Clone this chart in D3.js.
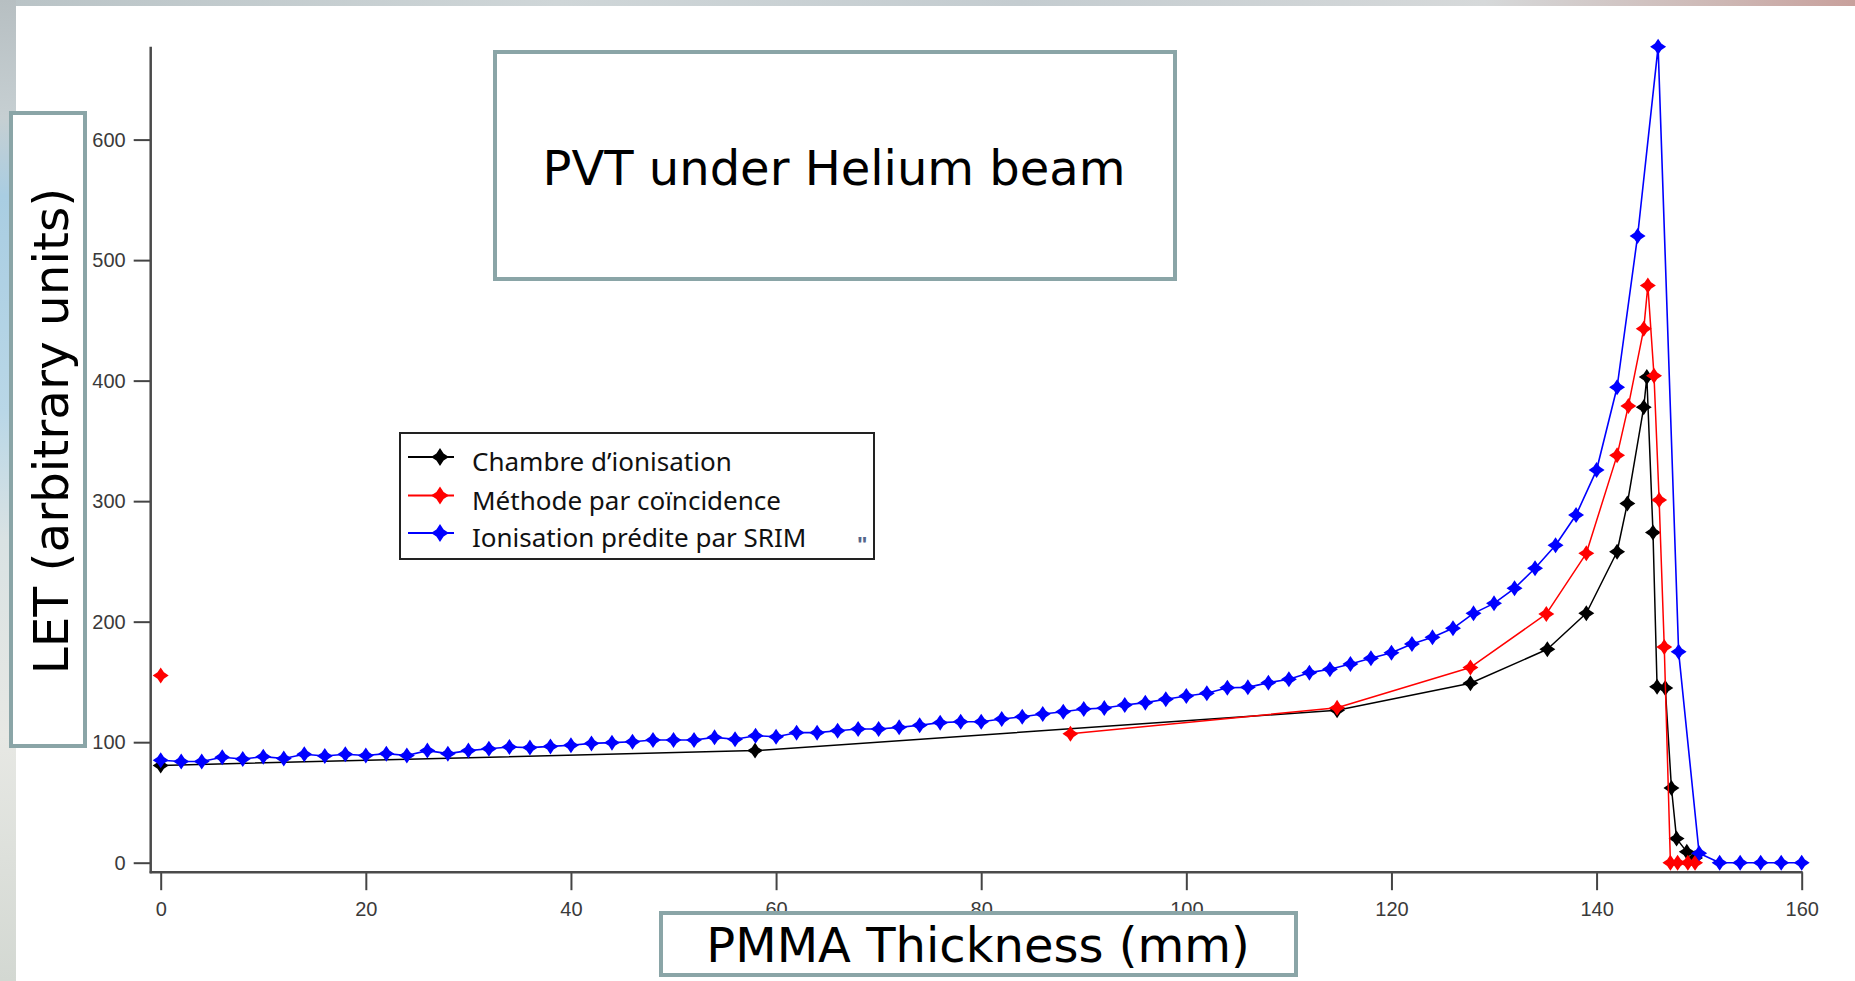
<!DOCTYPE html>
<html>
<head>
<meta charset="utf-8">
<script src="https://cdn.jsdelivr.net/npm/d3@7"></script>
<style>
  html, body { margin: 0; padding: 0; background: #fff; }
  svg { display: block; }
</style>
</head>
<body>
<div id="chart"></div>
<script>
// data (mm, arbitrary units)
const srimX = [0,2,4,6,8,10,12,14,16,18,20,22,24,26,28,30,32,34,36,38,40,42,44,46,48,50,52,54,56,58,60,
  62,64,66,68,70,72,74,76,78,80,82,84,86,88,90,92,94,96,98,100,102,104,106,108,110,112,114,116,118,120,
  122,124,126,128,130,132,134,136,138,140,142,144,146,148,150,152,154,156,158,160];
const srimY = [85,84,84,87.5,86,88,86.5,90,88.5,90,89,90.5,89,93,90.5,93,94.5,96,95.5,96.5,97.5,99,99.6,100.4,101.8,101.8,
  101.8,104,102.4,105.4,104.5,107.9,107.9,109.5,110.9,110.9,112.3,114,116.2,117,117,119.2,121.1,123.4,125.3,127.5,
  128.3,130.9,132.8,135.6,138.3,140.6,145.2,145.5,149.4,152.2,157.7,160.5,164.9,169.6,174.2,181.5,187,194.5,206.9,215.2,
  227.7,244.3,263.4,288.5,325.8,394.5,520,677,175,7.8,0,0,0,0,0];

const chambreX = [0,57.95,114.7,127.7,135.2,139,142,143,144.6,144.9,145.5,145.9,146.7,147.3,147.8,148.8,149.6];
const chambreY = [80.7,93,126.5,148.9,177.1,207,258,298,378,403,274,146,145,62,20,9,4];

// the first coincidence point stands alone (no line to the next one)
const coincX = [0,null,88.7,114.7,127.7,135.1,139,142,143.1,144.6,145,145.6,146.1,146.6,147.2,147.9,148.9,149.6];
const coincY = [155.3,null,107,128.5,162,206.4,256.7,338,379,443,479,404,301,179,0,0,0,0];

const xTicks = [0,20,40,60,80,100,120,140,160];
const yTicks = [0,100,200,300,400,500,600];

const seriesNames = ["Chambre d\u2019ionisation", "Méthode par coïncidence", "Ionisation prédite par SRIM"];
const seriesColors = ["#000000", "#ff0000", "#0000ff"];

const titleText = "PVT under Helium beam";
const xLabel = "PMMA Thickness (mm)";
const yLabel = "LET (arbitrary units)";

const W = 1855, H = 981;
const boxColor = "#8aa5a7";

const svg = d3.select("#chart").append("svg")
    .attr("width", W).attr("height", H);

// blurred slide background peeking out at the edges
const defs = svg.append("defs");
const gl = defs.append("linearGradient").attr("id", "leftBg")
    .attr("x1", 0).attr("y1", 0).attr("x2", 0).attr("y2", 1);
[[0,"#b7bfc2"],[0.12,"#c6cfd2"],[0.2,"#a9cde2"],[0.42,"#b9d7e7"],[0.55,"#d9e2e3"],[0.75,"#e7e8e4"],[1,"#d3d8d2"]]
    .forEach(s => gl.append("stop").attr("offset", s[0]).attr("stop-color", s[1]));
const gt = defs.append("linearGradient").attr("id", "topBg")
    .attr("x1", 0).attr("y1", 0).attr("x2", 1).attr("y2", 0);
[[0,"#b9c3c6"],[0.3,"#cfd6d8"],[0.55,"#c4ccd0"],[0.8,"#d6d9da"],[0.93,"#cdb7b4"],[1,"#c8a09c"]]
    .forEach(s => gt.append("stop").attr("offset", s[0]).attr("stop-color", s[1]));
svg.append("rect").attr("x", 0).attr("y", 0).attr("width", W).attr("height", 6).attr("fill", "url(#topBg)");
svg.append("rect").attr("x", 0).attr("y", 0).attr("width", 16).attr("height", H).attr("fill", "url(#leftBg)");

// scales
const x = d3.scaleLinear().domain([0, 160]).range([160.7, 1801.7]);
const y = d3.scaleLinear().domain([0, 600]).range([862.7, 139.6]);
const axisX = x(0) - 10;      // Igor-style offset axes
const axisY = y(0) + 9.5;
const yTop = y(d3.max(srimY));

const g = svg.append("g");

// y axis
const yAxis = g.append("g")
    .attr("transform", `translate(${axisX},0)`)
    .call(d3.axisLeft(y).tickValues(yTicks).tickSize(17).tickPadding(8).tickFormat(d3.format("d")));
yAxis.select(".domain").remove();
yAxis.selectAll("line").attr("stroke", "#444").attr("stroke-width", 2);
yAxis.selectAll("text").attr("fill", "#3a3a3a")
    .style("font-family", "'Liberation Sans', Arial, sans-serif").style("font-size", "20px");
g.append("line").attr("x1", axisX).attr("x2", axisX).attr("y1", yTop).attr("y2", axisY + 1)
    .attr("stroke", "#4a4a4a").attr("stroke-width", 2.5);

// x axis
const xAxis = g.append("g")
    .attr("transform", `translate(0,${axisY})`)
    .call(d3.axisBottom(x).tickValues(xTicks).tickSize(18).tickPadding(12).tickFormat(d3.format("d")));
xAxis.select(".domain").remove();
xAxis.selectAll("line").attr("stroke", "#444").attr("stroke-width", 2);
xAxis.selectAll("text").attr("fill", "#3a3a3a")
    .style("font-family", "'Liberation Sans', Arial, sans-serif").style("font-size", "20px");
g.append("line").attr("x1", axisX - 1).attr("x2", x(160) + 1).attr("y1", axisY).attr("y2", axisY)
    .attr("stroke", "#4a4a4a").attr("stroke-width", 2.5);

// marker: four point star
function star(r) {
  const a = r * 0.4;
  return `M0,${-r}L${a},${-a}L${r},0L${a},${a}L0,${r}L${-a},${a}L${-r},0L${-a},${-a}Z`;
}

function drawSeries(xs, ys, color, width) {
  const pts = xs.map((v, i) => ({x: v, y: ys[i]}));
  const line = d3.line()
      .defined(d => d.x != null && d.y != null)
      .x(d => x(d.x)).y(d => y(d.y));
  g.append("path").datum(pts)
      .attr("d", line)
      .attr("fill", "none")
      .attr("stroke", color)
      .attr("stroke-width", width)
      .attr("stroke-linejoin", "round");
  g.selectAll(null).data(pts.filter(d => d.x != null && d.y != null))
      .enter().append("path")
      .attr("d", star(8))
      .attr("transform", d => `translate(${x(d.x)},${y(d.y)})`)
      .attr("fill", color);
}

drawSeries(chambreX, chambreY, seriesColors[0], 1.5);
drawSeries(coincX, coincY, seriesColors[1], 1.5);
drawSeries(srimX, srimY, seriesColors[2], 1.6);

// legend
const leg = svg.append("g");
leg.append("rect").attr("x", 400).attr("y", 433).attr("width", 474).attr("height", 126)
    .attr("fill", "#fff").attr("stroke", "#222").attr("stroke-width", 2);
const rows = [471, 509.5, 547];
seriesNames.forEach((name, i) => {
  const cy = rows[i] - 14;
  leg.append("line").attr("x1", 408).attr("x2", 454).attr("y1", cy).attr("y2", cy)
      .attr("stroke", seriesColors[i]).attr("stroke-width", 2);
  leg.append("path").attr("d", star(9)).attr("transform", `translate(440,${cy})`)
      .attr("fill", seriesColors[i]);
  leg.append("text").attr("x", 472).attr("y", rows[i]).text(name)
      .attr("fill", "#111")
      .style("font-family", "'Noto Sans', 'Open Sans', sans-serif").style("font-size", "26px");
});
leg.append("text").attr("x", 857).attr("y", 552).text("\u0022")
    .attr("fill", "#55658a").attr("font-weight", "bold")
    .style("font-family", "'Liberation Sans', sans-serif").style("font-size", "22px");

// title box
svg.append("rect").attr("x", 495).attr("y", 52).attr("width", 680).attr("height", 227)
    .attr("fill", "#fff").attr("stroke", boxColor).attr("stroke-width", 4);
svg.append("text").attr("x", 834).attr("y", 185).attr("text-anchor", "middle").text(titleText)
    .attr("fill", "#000")
    .style("font-family", "'DejaVu Sans', Verdana, sans-serif").style("font-size", "48px");

// y label box
svg.append("rect").attr("x", 11).attr("y", 113).attr("width", 74).attr("height", 633)
    .attr("fill", "#fff").attr("stroke", boxColor).attr("stroke-width", 4);
svg.append("text").attr("transform", "translate(68,431) rotate(-90)")
    .attr("text-anchor", "middle").text(yLabel)
    .attr("fill", "#000")
    .style("font-family", "'DejaVu Sans', Verdana, sans-serif").style("font-size", "48.5px");

// x label box
svg.append("rect").attr("x", 661).attr("y", 913).attr("width", 635).attr("height", 62)
    .attr("fill", "#fff").attr("stroke", boxColor).attr("stroke-width", 4);
svg.append("text").attr("x", 978).attr("y", 962).attr("text-anchor", "middle").text(xLabel)
    .attr("fill", "#000")
    .style("font-family", "'DejaVu Sans', Verdana, sans-serif").style("font-size", "48px");
</script>
</body>
</html>
